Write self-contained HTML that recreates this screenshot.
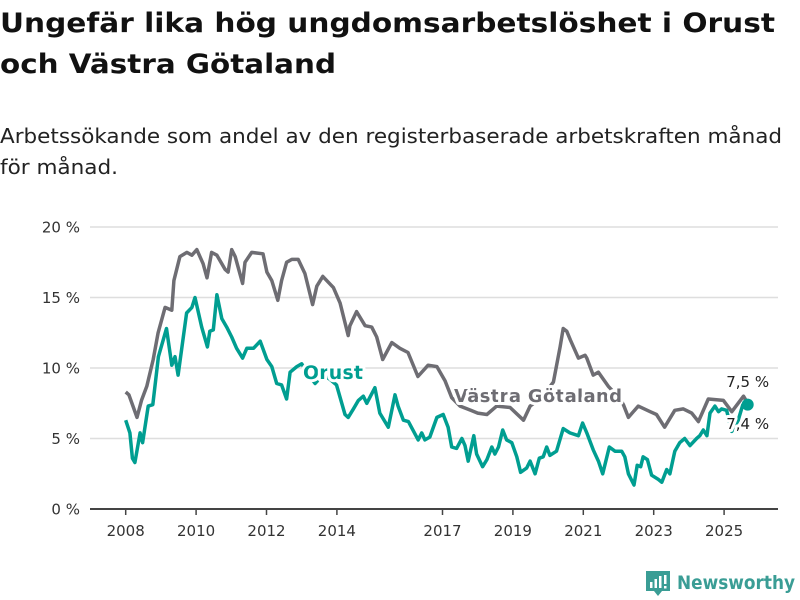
<!DOCTYPE html>
<html><head><meta charset="utf-8"><style>
html,body{margin:0;padding:0;background:#fff;width:800px;height:600px;overflow:hidden}
svg{display:block;font-family:"DejaVu Sans","Liberation Sans",sans-serif}
</style></head><body>
<svg id="chart" width="800" height="600" viewBox="0 0 800 600">
<text x="0" y="32" font-size="27" font-weight="bold" fill="#111" textLength="775" lengthAdjust="spacingAndGlyphs">Ungefär lika hög ungdomsarbetslöshet i Orust</text>
<text x="0" y="73" font-size="27" font-weight="bold" fill="#111" textLength="336" lengthAdjust="spacingAndGlyphs">och Västra Götaland</text>
<text x="0" y="143" font-size="20" fill="#222" textLength="782" lengthAdjust="spacingAndGlyphs">Arbetssökande som andel av den registerbaserade arbetskraften månad</text>
<text x="0" y="174" font-size="20" fill="#222" textLength="118" lengthAdjust="spacingAndGlyphs">för månad.</text>
<g id="grid"></g>
<g id="yaxis"></g>
<g id="xaxis"></g>
<g id="series"></g>
<g id="labels"></g>
<g>
<path d="M646 571h24v20h-8l-4 5-4-5h-8z" fill="#3a9d95"/>
<rect x="650" y="582" width="2.5" height="6" fill="#fff"/><rect x="654.5" y="579" width="2.5" height="9" fill="#fff"/><rect x="659" y="576" width="2.5" height="12" fill="#fff"/><rect x="664" y="575" width="2.5" height="9" fill="#fff"/><rect x="664" y="586" width="2.5" height="2.5" fill="#fff"/>
<text x="677" y="589" font-size="19" font-weight="bold" fill="#3a9d95" textLength="118" lengthAdjust="spacingAndGlyphs">Newsworthy</text>
</g>
</svg>
<script>
const yTicks = [0, 5, 10, 15, 20];
const xTicks = [2008, 2010, 2012, 2014, 2017, 2019, 2021, 2023, 2025];
const vgTimes = [2008.00,2008.09,2008.32,2008.45,2008.60,2008.78,2008.92,2009.12,2009.31,2009.37,2009.54,2009.74,2009.88,2010.02,2010.20,2010.31,2010.44,2010.59,2010.82,2010.91,2011.01,2011.11,2011.32,2011.39,2011.58,2011.90,2012.01,2012.15,2012.32,2012.43,2012.57,2012.72,2012.90,2013.09,2013.31,2013.43,2013.60,2013.90,2014.09,2014.32,2014.37,2014.56,2014.80,2014.99,2015.13,2015.30,2015.56,2015.79,2016.02,2016.30,2016.59,2016.84,2017.07,2017.26,2017.50,2017.80,2018.00,2018.26,2018.54,2018.92,2019.30,2019.49,2019.75,2020.00,2020.15,2020.34,2020.43,2020.53,2020.63,2020.86,2021.05,2021.10,2021.28,2021.43,2021.71,2021.90,2022.05,2022.14,2022.28,2022.56,2022.90,2023.08,2023.31,2023.60,2023.84,2024.08,2024.27,2024.55,2024.98,2025.22,2025.55,2025.67];
const vgValues = [8.3,8.1,6.5,7.7,8.7,10.6,12.5,14.3,14.1,16.2,17.9,18.2,18.0,18.4,17.4,16.4,18.2,18.0,17.0,16.8,18.4,17.9,16.0,17.5,18.2,18.1,16.8,16.2,14.8,16.2,17.5,17.7,17.7,16.7,14.5,15.8,16.5,15.7,14.6,12.3,13.0,14.0,13.0,12.9,12.2,10.6,11.8,11.4,11.1,9.4,10.2,10.1,9.1,7.9,7.3,7.0,6.8,6.7,7.3,7.2,6.3,7.3,7.8,8.5,9.0,11.5,12.8,12.6,12.0,10.7,10.9,10.7,9.5,9.7,8.7,8.2,7.8,7.4,6.5,7.3,6.9,6.7,5.8,7.0,7.1,6.8,6.2,7.8,7.7,6.9,8.0,7.5];
const orTimes = [2008.00,2008.12,2008.19,2008.26,2008.41,2008.48,2008.64,2008.77,2008.93,2009.16,2009.31,2009.40,2009.49,2009.73,2009.88,2009.97,2010.16,2010.32,2010.39,2010.49,2010.59,2010.73,2010.87,2011.01,2011.15,2011.32,2011.44,2011.63,2011.82,2012.01,2012.15,2012.29,2012.43,2012.57,2012.67,2012.86,2013.00,2013.20,2013.38,2013.60,2013.80,2013.99,2014.23,2014.32,2014.47,2014.61,2014.75,2014.85,2015.08,2015.22,2015.46,2015.65,2015.74,2015.89,2016.03,2016.31,2016.41,2016.50,2016.64,2016.84,2017.02,2017.16,2017.26,2017.40,2017.55,2017.64,2017.73,2017.89,2017.97,2018.14,2018.26,2018.40,2018.49,2018.59,2018.71,2018.82,2018.97,2019.11,2019.22,2019.39,2019.49,2019.63,2019.75,2019.86,2019.96,2020.05,2020.24,2020.43,2020.62,2020.86,2020.98,2021.10,2021.28,2021.43,2021.55,2021.74,2021.90,2022.09,2022.18,2022.28,2022.44,2022.53,2022.63,2022.70,2022.82,2022.94,2023.13,2023.23,2023.37,2023.46,2023.60,2023.74,2023.88,2024.03,2024.22,2024.31,2024.41,2024.51,2024.60,2024.74,2024.84,2024.93,2025.07,2025.22,2025.40,2025.53,2025.67];
const orValues = [6.3,5.4,3.6,3.3,5.4,4.7,7.3,7.4,10.8,12.8,10.2,10.8,9.5,13.9,14.3,15.0,12.9,11.5,12.6,12.7,15.2,13.5,12.9,12.2,11.4,10.7,11.4,11.4,11.9,10.6,10.1,8.9,8.8,7.8,9.7,10.1,10.3,9.5,8.9,9.5,9.2,8.8,6.7,6.5,7.1,7.7,8.0,7.5,8.6,6.8,5.8,8.1,7.3,6.3,6.2,4.9,5.4,4.9,5.1,6.5,6.7,5.8,4.4,4.3,5.0,4.5,3.4,5.2,3.9,3.0,3.5,4.4,3.9,4.4,5.6,4.9,4.7,3.7,2.6,2.9,3.4,2.5,3.6,3.7,4.4,3.8,4.1,5.7,5.4,5.2,6.1,5.4,4.2,3.4,2.5,4.4,4.1,4.1,3.7,2.5,1.7,3.1,3.0,3.7,3.5,2.4,2.1,1.9,2.8,2.5,4.1,4.7,5.0,4.5,5.0,5.2,5.6,5.2,6.8,7.3,6.9,7.1,7.0,5.5,6.3,7.4,7.4];
const lastLabels = ["7,5 %", "7,4 %"];

const NS = "http://www.w3.org/2000/svg";
const X0 = 90, X1 = 778;
function xs(t){ return 125.7 + (t - 2008) * 35.2; }
function ys(v){ return 509 - v * 14.1; }
function mk(tag, attrs, parent){ const e = document.createElementNS(NS, tag); for (const k in attrs) e.setAttribute(k, attrs[k]); parent.appendChild(e); return e; }

const grid = document.getElementById('grid'), yax = document.getElementById('yaxis'), xax = document.getElementById('xaxis');
yTicks.forEach(v => {
  if (v > 0) {
    const g = mk('line', {x1: X0, x2: X1, y1: ys(v), y2: ys(v), stroke: '#dedede', 'stroke-width': 1.5}, grid);
    
    
  }
  const t = mk('text', {x: 80, y: ys(v) + 5.5, 'text-anchor': 'end', 'font-size': 15, fill: '#333'}, yax);
  t.textContent = v + ' %';
  
  
});
const axl = mk('line', {x1: X0, x2: X1, y1: 509, y2: 509, stroke: '#444', 'stroke-width': 2}, xax);


xTicks.forEach(y => {
  const tk = mk('line', {x1: xs(y), x2: xs(y), y1: 509, y2: 515, stroke: '#444', 'stroke-width': 1.5}, xax);
  
  
  const t = mk('text', {x: xs(y), y: 536, 'text-anchor': 'middle', 'font-size': 15, fill: '#333'}, xax);
  t.textContent = y;
  
  
});

const ser = document.getElementById('series');
function path(times, vals){ return times.map((t, i) => (i ? 'L' : 'M') + xs(t).toFixed(1) + ' ' + ys(vals[i]).toFixed(1)).join(''); }
const vg = mk('path', {d: path(vgTimes, vgValues), fill: 'none', stroke: '#6e6d73', 'stroke-width': 3.5, 'stroke-linejoin': 'round'}, ser);


const orl = mk('path', {d: path(orTimes, orValues), fill: 'none', stroke: '#009e91', 'stroke-width': 3.5, 'stroke-linejoin': 'round'}, ser);



const lab = document.getElementById('labels');
function label(txt, x, y, color, size, bold, name, anchor){
  const t = mk('text', {x: x, y: y, fill: color, 'font-size': size, 'font-weight': bold ? 'bold' : 'normal', stroke: '#fff', 'stroke-width': 6, 'paint-order': 'stroke', 'stroke-linejoin': 'round', 'text-anchor': anchor || 'start'}, lab);
  t.textContent = txt;
  
  
  return t;
}
label('Västra Götaland', 454, 402, '#6e6d73', 18, true, 'label-vastra-gotaland').setAttribute('textLength', '168');
label('Orust', 303, 379, '#009e91', 19, true, 'label-orust').setAttribute('textLength', '60');
const lx = xs(vgTimes[vgTimes.length - 1]);
label(lastLabels[0], lx, 387, '#222', 15, false, 'end-label-vastra-gotaland', 'middle');
label(lastLabels[1], lx, 429, '#222', 15, false, 'end-label-orust', 'middle');
const dot = mk('circle', {cx: lx, cy: ys(orValues[orValues.length - 1]), r: 6, fill: '#009e91'}, lab);


</script>
</body></html>
